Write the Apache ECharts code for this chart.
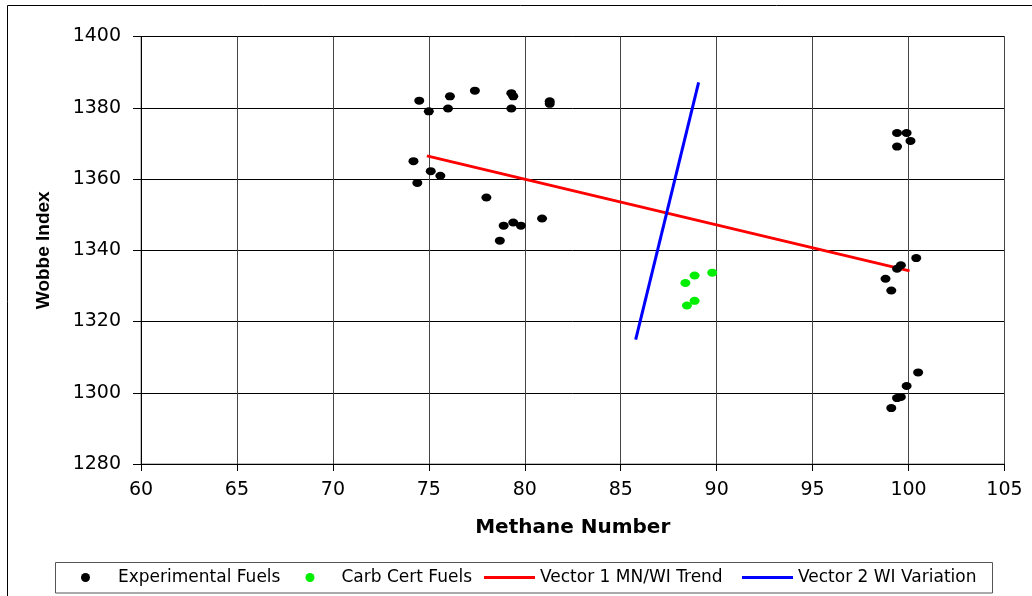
<!DOCTYPE html>
<html>
<head>
<meta charset="utf-8">
<script src="https://cdn.jsdelivr.net/npm/echarts@6/dist/echarts.min.js"></script>
<style>html,body{margin:0;padding:0;background:#fff}#c{width:1032px;height:596px}</style>
</head>
<body>
<div id="c"></div>
<script>
// Experimental fuels
var expX = [74.5, 75.0, 76.1, 76.0, 77.4, 79.3, 79.4, 79.3, 81.3, 81.3, 74.2, 75.1, 75.6, 74.4, 78.0, 78.9, 79.4, 79.8, 80.9, 78.7, 99.4, 99.9, 100.1, 99.4, 100.4, 99.6, 99.4, 98.8, 99.1, 100.5, 99.9, 99.6, 99.4, 99.1];
var expY = [1382, 1379, 1383.2, 1379.8, 1384.8, 1384.1, 1383.2, 1379.8, 1381.8, 1381.1, 1365, 1362.2, 1360.9, 1358.9, 1354.8, 1346.9, 1347.8, 1346.9, 1348.9, 1342.7, 1372.9, 1372.9, 1370.7, 1369.1, 1337.8, 1335.8, 1334.8, 1332, 1328.7, 1305.7, 1301.9, 1298.8, 1298.5, 1295.7];
// Carb cert fuels
var carbX = [88.85, 89.77, 88.37, 88.85, 88.45];
var carbY = [1332.9, 1333.7, 1330.8, 1325.8, 1324.5];
// Vectors
var vec1X = [74.9, 100.05];
var vec1Y = [1366.5, 1334.2];
var vec2X = [85.78, 89.06];
var vec2Y = [1314.9, 1387.1];
var seriesNames = ['Experimental Fuels', 'Carb Cert Fuels', 'Vector 1 MN/WI Trend', 'Vector 2 WI Variation'];
var xTitle = 'Methane Number';
var yTitle = 'Wobbe Index';

function pairs(xs, ys) { return xs.map(function (x, i) { return [x, ys[i]]; }); }

var legendText = { fontFamily: 'DejaVu Sans', fontSize: 17, color: '#000' };
function dotLegend(name, left, pad) {
  return { left: left, top: 569, padding: 0, itemWidth: 9, itemHeight: 9,
    textStyle: Object.assign({ padding: [0, 0, 0, pad] }, legendText),
    data: [{ name: name, icon: 'circle' }] };
}
function lineLegend(name, left) {
  return { left: left, top: 569, padding: 0, itemWidth: 51, itemHeight: 3,
    textStyle: legendText, data: [{ name: name, icon: 'rect' }] };
}

var chart = echarts.init(document.getElementById('c'), null, { renderer: 'canvas' });
chart.setOption({
  animation: false,
  backgroundColor: '#fff',
  textStyle: { fontFamily: 'DejaVu Sans' },
  graphic: [
    { type: 'rect', shape: { x: 7.5, y: 5.5, width: 1040, height: 620 }, style: { fill: null, stroke: '#000', lineWidth: 1 }, silent: true, z: -10 },
    { type: 'rect', shape: { x: 55.5, y: 562.5, width: 937, height: 30.5 }, style: { fill: null, stroke: '#555', lineWidth: 1 }, silent: true, z: -5 }
  ],
  grid: { left: 141, right: 27.5, top: 36.5, bottom: 132, show: true, borderColor: '#808080', borderWidth: 1, containLabel: false },
  legend: [
    dotLegend(seriesNames[0], 81, 23),
    dotLegend(seriesNames[1], 305.5, 22),
    lineLegend(seriesNames[2], 484),
    lineLegend(seriesNames[3], 742)
  ],
  xAxis: {
    type: 'value', min: 60, max: 105, interval: 5,
    name: xTitle, nameLocation: 'middle', nameGap: 54,
    nameTextStyle: { fontFamily: 'DejaVu Sans', fontWeight: 'bold', fontSize: 20, color: '#000' },
    axisLine: { show: true, onZero: false, lineStyle: { color: '#000', width: 1 } },
    axisTick: { show: true, length: 7, inside: false, lineStyle: { color: '#000' } },
    axisLabel: { margin: 17, fontFamily: 'DejaVu Sans', fontSize: 19, color: '#000' },
    splitLine: { show: true, lineStyle: { color: '#444', width: 1 } }
  },
  yAxis: {
    type: 'value', min: 1280, max: 1400, interval: 20,
    name: yTitle, nameLocation: 'middle', nameGap: 88, nameRotate: 90,
    nameTextStyle: { fontFamily: 'Liberation Sans', fontWeight: 'bold', fontSize: 19, color: '#000' },
    axisLine: { show: true, onZero: false, lineStyle: { color: '#000', width: 1 } },
    axisTick: { show: true, length: 8, inside: false, lineStyle: { color: '#000' } },
    axisLabel: { margin: 20, fontFamily: 'DejaVu Sans', fontSize: 19, color: '#000',
      formatter: function (v) { return String(v); } },
    splitLine: { show: true, lineStyle: { color: '#000', width: 1 } }
  },
  series: [
    { name: seriesNames[2], type: 'line', data: pairs(vec1X, vec1Y), symbol: 'none', showSymbol: false, z: 2,
      lineStyle: { color: '#ff0000', width: 3 }, itemStyle: { color: '#ff0000' }, emphasis: { disabled: true } },
    { name: seriesNames[3], type: 'line', data: pairs(vec2X, vec2Y), symbol: 'none', showSymbol: false, z: 2,
      lineStyle: { color: '#0000ff', width: 3 }, itemStyle: { color: '#0000ff' }, emphasis: { disabled: true } },
    { name: seriesNames[0], type: 'scatter', data: pairs(expX, expY), symbol: 'circle', symbolSize: [10, 8], z: 3,
      itemStyle: { color: '#000', opacity: 1 }, emphasis: { disabled: true } },
    { name: seriesNames[1], type: 'scatter', data: pairs(carbX, carbY), symbol: 'circle', symbolSize: [10, 8], z: 3,
      itemStyle: { color: '#00ee00', opacity: 1 }, emphasis: { disabled: true } }
  ]
});
</script>
</body>
</html>
